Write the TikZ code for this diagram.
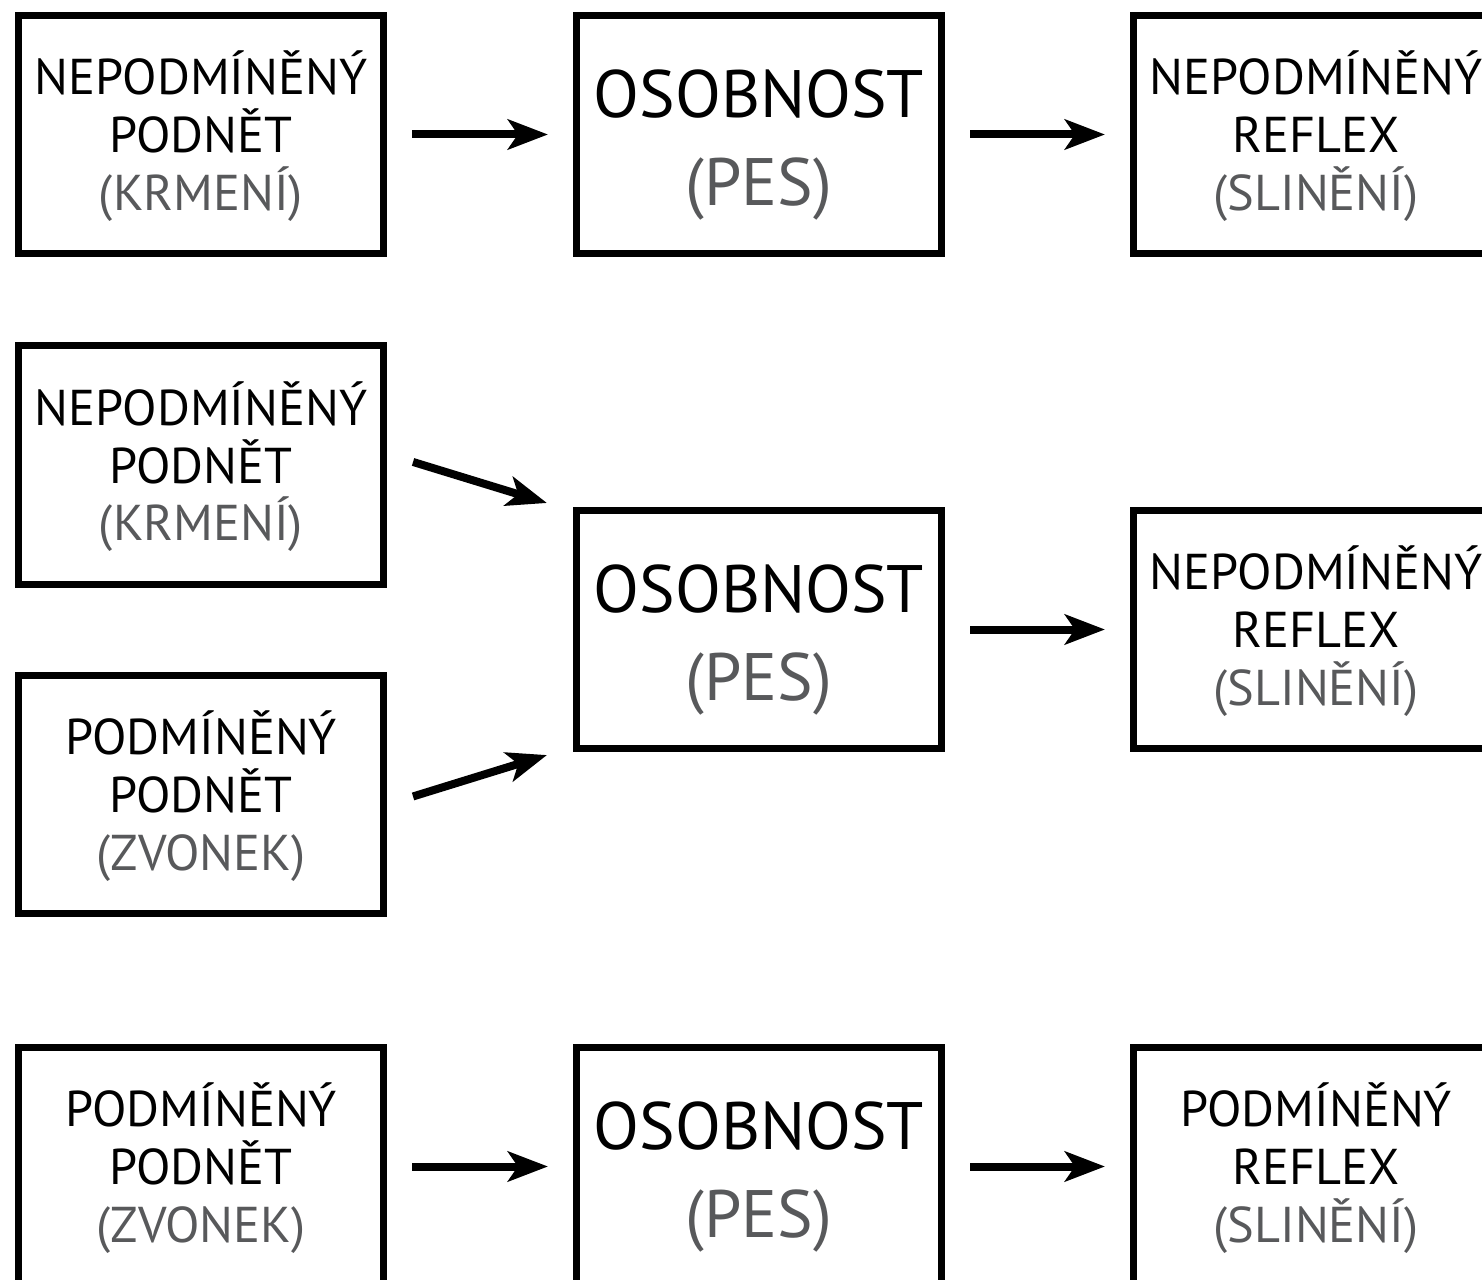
\documentclass[tikz,border=0pt]{standalone}
\usepackage{fontspec}
\setmainfont{PT Sans}
\usetikzlibrary{positioning,arrows.meta,calc}
\definecolor{hint}{RGB}{88,89,91}
\newcommand{\gr}[1]{\textcolor{hint}{#1}}
\tikzset{
  box/.style={draw,line width=0.175cm,minimum width=9.125cm,minimum height=5.95cm,
    inner sep=0pt,align=center,font=\fontsize{35.8}{40.9}\selectfont,
    text height=107.4pt,text depth=0pt},
  pes/.style={box,font=\fontsize{47.7}{61.9}\selectfont,text height=100.3pt},
  arr/.style={-{Stealth[length=1cm,width=0.75cm,inset=0.25cm]},line width=0.2cm,
    shorten <=0.625cm,shorten >=0.625cm}
}

\begin{document}
\begin{tikzpicture}[x=0.025cm,y=-0.025cm]
  \useasboundingbox (0,0) rectangle (1482,1280);
  \clip (0,0) rectangle (1482,1280);

  % middle column: the dog
  \foreach \y/\n in {134.5/pes1, 629.5/pes2, 1166.5/pes3}
    \node[pes] (\n) at (759,\y) {OSOBNOST\\\gr{(PES)}};

  % stimuli
  \node[box] (np1) at (201,134.5) {NEPODMÍNĚNÝ\\PODNĚT\\\gr{(KRMENÍ)}};
  \node[box] (np2) at (201,465) {NEPODMÍNĚNÝ\\PODNĚT\\\gr{(KRMENÍ)}};
  \node[box] (pp2) at (201,794.5) {PODMÍNĚNÝ\\PODNĚT\\\gr{(ZVONEK)}};
  \node[box] (pp3) at (201,1166.5) {PODMÍNĚNÝ\\PODNĚT\\\gr{(ZVONEK)}};

  % reflexes
  \node[box] (nr1) at (1316,134.5) {NEPODMÍNĚNÝ\\REFLEX\\\gr{(SLINĚNÍ)}};
  \node[box] (nr2) at (1316,629.5) {NEPODMÍNĚNÝ\\REFLEX\\\gr{(SLINĚNÍ)}};
  \node[box] (pr3) at (1316,1166.5) {PODMÍNĚNÝ\\REFLEX\\\gr{(SLINĚNÍ)}};

  \foreach \s/\t in {np1/pes1, pes1/nr1, pes2/nr2, pp3/pes3, pes3/pr3}
    \draw[arr] (\s.east) to (\t.west);
  \draw[arr,shorten <=0.68cm,shorten >=0.68cm] ($(np2.east)+(0,-11)$) to ($(pes2.north west)+(0,4)$);
  \draw[arr,shorten <=0.68cm,shorten >=0.68cm] ($(pp2.east)+(0,10)$) to ($(pes2.south west)+(0,-5)$);

\end{tikzpicture}
\end{document}
